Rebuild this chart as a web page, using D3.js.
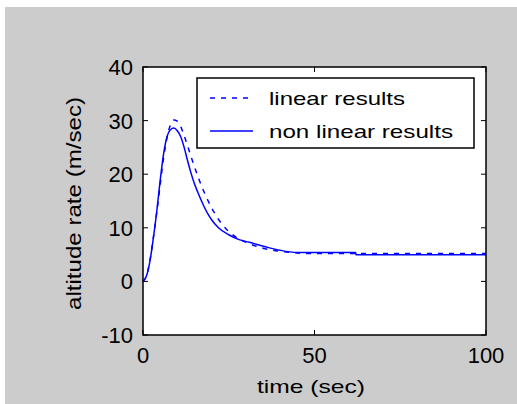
<!DOCTYPE html>
<html>
<head>
<meta charset="utf-8">
<script src="https://cdn.jsdelivr.net/npm/d3@7"></script>
<style>
  body { margin: 0; background: #fff; }
  text { font-family: "Liberation Sans", Arial, sans-serif; fill: #000; }
</style>
</head>
<body>
<div id="chart"></div>
<script>
// values
const linearT = [0, 1, 2, 3, 4, 5, 6, 7, 8, 9, 10, 11, 12, 13, 14, 15, 16, 17, 18, 19, 20, 21, 22, 23, 25, 27, 30, 35, 40, 45, 50, 62, 70, 80, 90, 100];
const linearV = [0, 1, 3.8, 8.1, 12.8, 18, 23, 26.8, 29.2, 30.1, 29.9, 28.9, 27.2, 25.3, 23.3, 21.4, 19.6, 17.9, 16.4, 15.0, 13.7, 12.6, 11.6, 10.7, 9.3, 8.3, 7.3, 6.2, 5.6, 5.3, 5.2, 5.2, 5.2, 5.2, 5.2, 5.2];
const nonlinT = [0, 1, 2, 3, 4, 5, 6, 7, 8, 9, 10, 11, 12, 13, 14, 15, 16, 17, 18, 19, 20, 22, 25, 28, 31, 36, 40, 45, 62, 62.1, 70, 80, 90, 100];
const nonlinV = [0, 1, 3.7, 8, 13, 18.8, 23.8, 27, 28.3, 28.6, 28.1, 27, 25, 22.5, 20.2, 18.2, 16.6, 15.1, 13.7, 12.5, 11.5, 10, 8.7, 7.8, 7.3, 6.4, 5.8, 5.4, 5.4, 4.95, 4.95, 4.95, 4.95, 4.95];
const xTicks = [0, 50, 100];
const yTicks = [-10, 0, 10, 20, 30, 40];
const legendLabels = ["linear results", "non linear results"];

const W = 517, H = 404;
const svg = d3.select("#chart").append("svg")
    .attr("width", W)
    .attr("height", H);

// figure background (grey, with a thin white edge top-left)
svg.append("rect")
    .attr("x", 5).attr("y", 7)
    .attr("width", W - 5).attr("height", H - 7)
    .attr("fill", "#cccccc");

const pLeft = 143, pRight = 486, pTop = 67, pBottom = 335;

const x = d3.scaleLinear().domain([0, 100]).range([pLeft, pRight]);
const y = d3.scaleLinear().domain([-10, 40]).range([pBottom, pTop]);

// axes box
svg.append("rect")
    .attr("x", pLeft).attr("y", pTop)
    .attr("width", pRight - pLeft).attr("height", pBottom - pTop)
    .attr("fill", "#fff");

// lines
const line = d3.line()
    .x(d => x(d[0]))
    .y(d => y(d[1]))
    .curve(d3.curveMonotoneX);

const nonlinData = nonlinT.map((t, i) => [t, nonlinV[i]]);
const linearData = linearT.map((t, i) => [t, linearV[i]]);

svg.append("path")
    .datum(nonlinData)
    .attr("d", line)
    .attr("fill", "none")
    .attr("stroke", "#0000ff")
    .attr("stroke-width", 1.5);

svg.append("path")
    .datum(linearData)
    .attr("d", line)
    .attr("fill", "none")
    .attr("stroke", "#0000ff")
    .attr("stroke-width", 1.5)
    .attr("stroke-dasharray", "5,6");

// ticks, inside on all four sides (matlab style)
const tl = 5;
const axisG = svg.append("g").attr("stroke", "#000").attr("stroke-width", 1);
xTicks.forEach(t => {
    axisG.append("line").attr("x1", x(t)).attr("x2", x(t)).attr("y1", pBottom).attr("y2", pBottom - tl);
    axisG.append("line").attr("x1", x(t)).attr("x2", x(t)).attr("y1", pTop).attr("y2", pTop + tl);
});
yTicks.forEach(t => {
    axisG.append("line").attr("x1", pLeft).attr("x2", pLeft + tl).attr("y1", y(t)).attr("y2", y(t));
    axisG.append("line").attr("x1", pRight).attr("x2", pRight - tl).attr("y1", y(t)).attr("y2", y(t));
});

svg.append("rect")
    .attr("x", pLeft).attr("y", pTop)
    .attr("width", pRight - pLeft).attr("height", pBottom - pTop)
    .attr("fill", "none")
    .attr("stroke", "#000")
    .attr("stroke-width", 1.5);

// tick labels
svg.selectAll(".xl").data(xTicks).enter().append("text")
    .attr("x", d => x(d))
    .attr("y", 363)
    .attr("text-anchor", "middle")
    .style("font-size", "22px")
    .text(d => d);

svg.selectAll(".yl").data(yTicks).enter().append("text")
    .attr("x", 133)
    .attr("y", d => y(d) + 8)
    .attr("text-anchor", "end")
    .style("font-size", "22px")
    .text(d => d);

// axis titles
svg.append("text")
    .attr("x", 257)
    .attr("y", 393)
    .attr("textLength", 108)
    .attr("lengthAdjust", "spacingAndGlyphs")
    .style("font-size", "19px")
    .text("time (sec)");

svg.append("text")
    .attr("transform", `translate(81, 310) rotate(-90)`)
    .attr("textLength", 213)
    .attr("lengthAdjust", "spacingAndGlyphs")
    .style("font-size", "21px")
    .text("altitude rate (m/sec)");

// legend
const lg = svg.append("g");
lg.append("rect")
    .attr("x", 197).attr("y", 78)
    .attr("width", 277).attr("height", 70)
    .attr("fill", "#fff")
    .attr("stroke", "#000")
    .attr("stroke-width", 1.5);

const rows = [98, 131];
const textLens = [136, 184];
legendLabels.forEach((lab, i) => {
    lg.append("line")
        .attr("x1", 210).attr("x2", 253)
        .attr("y1", rows[i]).attr("y2", rows[i])
        .attr("stroke", "#0000ff")
        .attr("stroke-width", 1.5)
        .attr("stroke-dasharray", i === 0 ? "5,6" : null);
    lg.append("text")
        .attr("x", 269)
        .attr("y", rows[i] + 7)
        .attr("textLength", textLens[i])
        .attr("lengthAdjust", "spacingAndGlyphs")
        .style("font-size", "19px")
        .text(lab);
});
</script>
</body>
</html>
